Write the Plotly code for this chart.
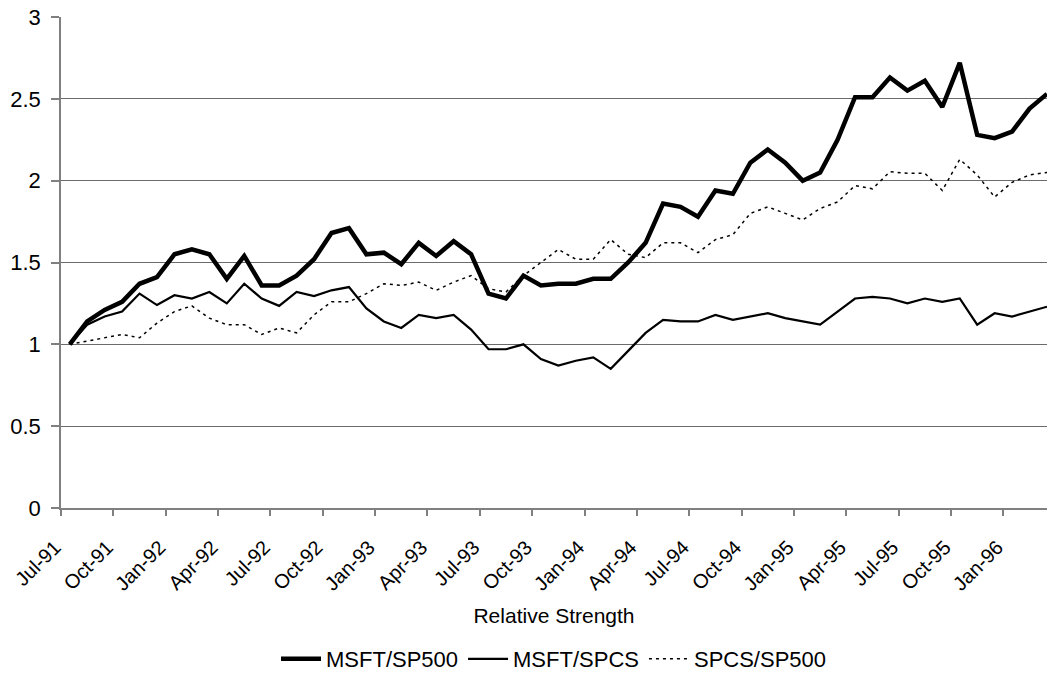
import plotly.graph_objects as go
import pandas as pd

# Monthly categories Jul-91 .. Mar-96
months = [d.strftime("%b-%y") for d in pd.date_range("1991-07-01", "1996-03-01", freq="MS")]

msft_sp500 = [1.00, 1.14, 1.21, 1.26, 1.37, 1.41, 1.55, 1.58, 1.55, 1.40,
              1.54, 1.36, 1.36, 1.42, 1.52, 1.68, 1.71, 1.55, 1.56, 1.49,
              1.62, 1.54, 1.63, 1.55, 1.31, 1.28, 1.42, 1.36, 1.37, 1.37,
              1.40, 1.40, 1.50, 1.62, 1.86, 1.84, 1.78, 1.94, 1.92, 2.11,
              2.19, 2.11, 2.00, 2.05, 2.25, 2.51, 2.51, 2.63, 2.55, 2.61,
              2.45, 2.72, 2.28, 2.26, 2.30, 2.44, 2.53]

msft_spcs = [1.00, 1.12, 1.17, 1.20, 1.31, 1.24, 1.30, 1.28, 1.32, 1.25,
             1.37, 1.28, 1.235, 1.32, 1.295, 1.33, 1.35, 1.22, 1.14, 1.10,
             1.18, 1.16, 1.18, 1.09, 0.97, 0.97, 1.00, 0.91, 0.87, 0.90,
             0.92, 0.85, 0.96, 1.07, 1.15, 1.14, 1.14, 1.18, 1.15, 1.17,
             1.19, 1.16, 1.14, 1.12, 1.20, 1.28, 1.29, 1.28, 1.25, 1.28,
             1.26, 1.28, 1.12, 1.19, 1.17, 1.20, 1.23]

spcs_sp500 = [1.00, 1.02, 1.04, 1.06, 1.04, 1.13, 1.20, 1.235, 1.16, 1.12,
              1.12, 1.06, 1.10, 1.07, 1.18, 1.26, 1.26, 1.31, 1.37, 1.36,
              1.38, 1.33, 1.38, 1.42, 1.34, 1.32, 1.42, 1.50, 1.58, 1.52,
              1.52, 1.64, 1.55, 1.53, 1.62, 1.62, 1.56, 1.64, 1.67, 1.80,
              1.84, 1.80, 1.76, 1.83, 1.87, 1.97, 1.95, 2.055, 2.045, 2.045,
              1.94, 2.13, 2.035, 1.90, 1.99, 2.035, 2.05]

tick_labels = ["Jul-91", "Oct-91", "Jan-92", "Apr-92", "Jul-92", "Oct-92",
               "Jan-93", "Apr-93", "Jul-93", "Oct-93", "Jan-94", "Apr-94",
               "Jul-94", "Oct-94", "Jan-95", "Apr-95", "Jul-95", "Oct-95",
               "Jan-96"]

y_ticks = [0, 0.5, 1, 1.5, 2, 2.5, 3]
y_tick_text = ["0", "0.5", "1", "1.5", "2", "2.5", "3"]

x = list(range(len(months)))
# ticks sit on category boundaries, one every 3 months
tick_pos = [months.index(lbl) - 0.5 for lbl in tick_labels]

FONT = "Arial, Liberation Sans, sans-serif"

fig = go.Figure()
fig.add_trace(go.Scatter(x=x, y=msft_sp500, mode="lines", name="MSFT/SP500",
                         line=dict(color="black", width=4.5)))
fig.add_trace(go.Scatter(x=x, y=msft_spcs, mode="lines", name="MSFT/SPCS",
                         line=dict(color="black", width=2.2)))
fig.add_trace(go.Scatter(x=x, y=spcs_sp500, mode="lines", name="SPCS/SP500",
                         line=dict(color="black", width=1.5, dash="3px,4px")))

fig.update_layout(
    width=1047, height=679,
    margin=dict(l=61, r=0, t=17, b=171, autoexpand=False),
    paper_bgcolor="white", plot_bgcolor="white",
    font=dict(family=FONT, color="black", size=20),
    showlegend=True,
    legend=dict(orientation="h", x=0.5, xanchor="center", y=-0.3075, yanchor="middle",
                font=dict(size=22, family=FONT), itemwidth=40, tracegroupgap=0),
)
fig.update_xaxes(
    range=[-0.5, 56.0], tickmode="array", tickvals=tick_pos, ticktext=tick_labels,
    tickangle=-45, ticks="outside", ticklen=6, tickcolor="#808080", tickwidth=1.5,
    showgrid=False, showline=True, linecolor="#808080", linewidth=1.5, zeroline=False,
    tickfont=dict(size=20, family=FONT), automargin=False,
    ticklabelshift=-6, ticklabelstandoff=12,
    title=dict(text="Relative Strength", font=dict(size=21, family=FONT), standoff=14),
)
fig.update_yaxes(
    range=[0, 3], tickmode="array", tickvals=y_ticks, ticktext=y_tick_text,
    ticks="outside", ticklen=8, tickcolor="#808080", tickwidth=1.5,
    showgrid=True, gridcolor="#6b6b6b", gridwidth=1.4,
    showline=True, linecolor="#808080", linewidth=1.5, zeroline=False,
    tickfont=dict(size=22, family=FONT), automargin=False, ticklabelstandoff=6,
)

fig.write_html(
    "out.html",
    config={"displayModeBar": False},
    post_script="document.body.style.margin='0';document.body.style.overflow='hidden';",
)
